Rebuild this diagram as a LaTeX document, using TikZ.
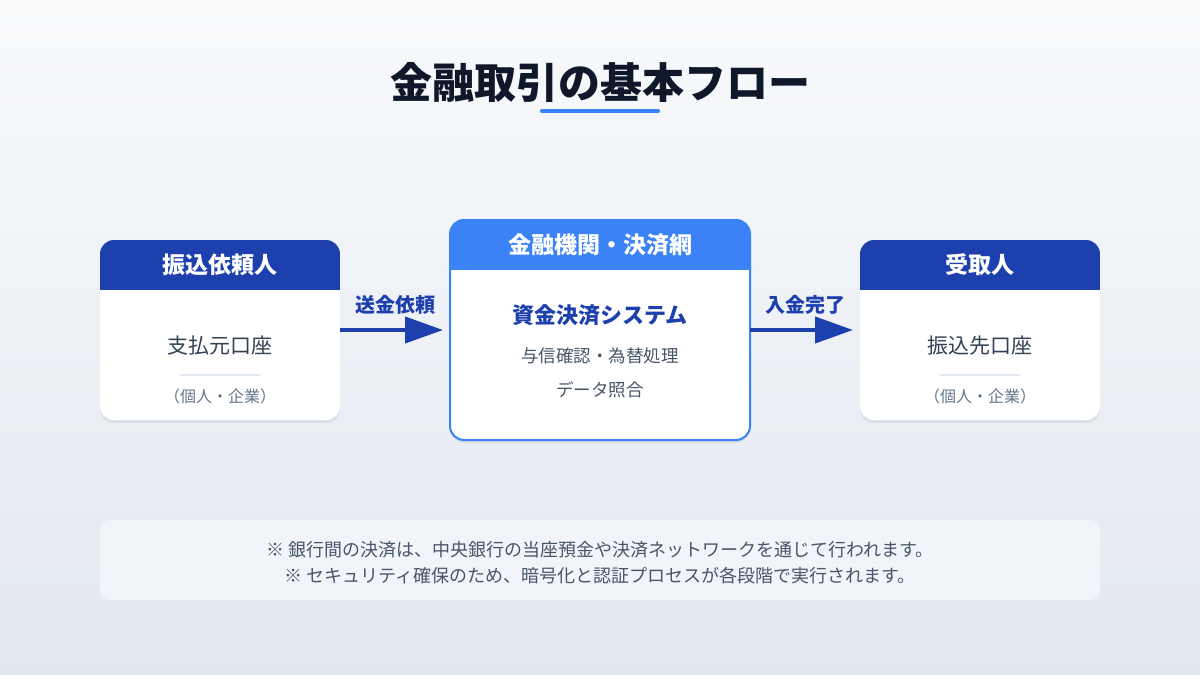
\documentclass[tikz,border=0pt]{standalone}
\usepackage{fontspec}
\setmainfont{Noto Sans CJK JP}
\usetikzlibrary{arrows.meta,shadows}

\definecolor{bgtop}{HTML}{F8FAFC}
\definecolor{bgbot}{HTML}{E2E8F0}
\definecolor{ink}{HTML}{0F172A}
\definecolor{navy}{HTML}{1E40AF}
\definecolor{sky}{HTML}{3B82F6}
\definecolor{slate}{HTML}{334155}
\definecolor{muted}{HTML}{64748B}
\definecolor{gray}{HTML}{475569}
\definecolor{rule}{HTML}{E2E8F0}
\definecolor{notebg}{HTML}{F1F5F9}

\newcommand{\fs}[1]{\fontsize{#1}{#1}\selectfont}

\begin{document}
\begin{tikzpicture}[x=1pt,y=-1pt,
    card/.style={fill=white, rounded corners=14pt, inner sep=0pt, outer sep=0pt,
      minimum width=240pt, minimum height=180pt,
      drop shadow={shadow xshift=0pt, shadow yshift=-3pt, opacity=0.06, fill=black}},
    hdtext/.style={text=white, font=\fs{23}\bfseries},
    main/.style={text=slate, font=\fs{21}},
    sub/.style={text=muted, font=\fs{16}},
    item/.style={text=gray, font=\fs{17.5}},
    divider/.style={draw=rule, line width=2pt},
    flow/.style={draw=navy, line width=4pt, shorten >=7pt,
      -{Triangle[length=38pt,width=26pt]}},
    lbl/.style={text=navy, font=\fs{20}\bfseries, yshift=25pt}]
  \shade[top color=bgtop, bottom color=bgbot] (0,0) rectangle (1200,675);
  \useasboundingbox (0,0) rectangle (1200,675);

  % title
  \node[text=ink, font=\fs{42}\bfseries] (title) at (600,82) {金融取引の基本フロー};
  \draw[sky, line width=4pt, line cap=round] (542,111) -- (658,111);

  % cards
  \node[card] (payer) at (220,330) {};
  \node[card, minimum width=300pt, minimum height=220pt, draw=sky, line width=2pt] (bank) at (600,330) {};
  \node[card] (payee) at (980,330) {};

  \foreach \c/\col in {payer/navy, bank/sky, payee/navy} {
    \begin{scope}
      \clip[rounded corners=14pt] (\c.south west) rectangle (\c.north east);
      \fill[\col] (\c.north west) rectangle ([yshift=-50pt]\c.north east);
    \end{scope}
  }

  \node[hdtext] (payer-hd) at ([yshift=-25pt]payer.north) {振込依頼人};
  \node[main] (payer-acct) at ([yshift=-16pt]payer.center) {支払元口座};
  \draw[divider] ([xshift=-40pt,yshift=-45pt]payer.center) -- ([xshift=40pt,yshift=-45pt]payer.center);
  \node[sub] (payer-sub) at ([yshift=-66pt]payer.center) {（個人・企業）};

  \node[hdtext] (bank-hd) at ([yshift=-25pt]bank.north) {金融機関・決済網};
  \node[text=navy, font=\fs{22}\bfseries] (bank-sys) at ([yshift=15pt]bank.center) {資金決済システム};
  \node[item] (bank-credit) at ([yshift=-26pt]bank.center) {与信確認・為替処理};
  \node[item] (bank-match) at ([yshift=-60pt]bank.center) {データ照合};

  \node[hdtext] (payee-hd) at ([yshift=-25pt]payee.north) {受取人};
  \node[main] (payee-acct) at ([yshift=-16pt]payee.center) {振込先口座};
  \draw[divider] ([xshift=-40pt,yshift=-45pt]payee.center) -- ([xshift=40pt,yshift=-45pt]payee.center);
  \node[sub] (payee-sub) at ([yshift=-66pt]payee.center) {（個人・企業）};

  % arrows
  \draw[flow] (payer) -- (bank) node[midway, lbl] {送金依頼};
  \draw[flow] (bank) -- (payee) node[midway, lbl] {入金完了};

  % note
  \node[fill=notebg, rounded corners=10pt, minimum width=1000pt, minimum height=80pt] (note) at (600,560) {};
  \node[align=center, text=gray, font=\fontsize{18}{26}\selectfont, inner sep=0pt] (note-text)
    at ([yshift=-3pt]note.center)
    {※ 銀行間の決済は、中央銀行の当座預金や決済ネットワークを通じて行われます。\\
     ※ セキュリティ確保のため、暗号化と認証プロセスが各段階で実行されます。};
\end{tikzpicture}
\end{document}
